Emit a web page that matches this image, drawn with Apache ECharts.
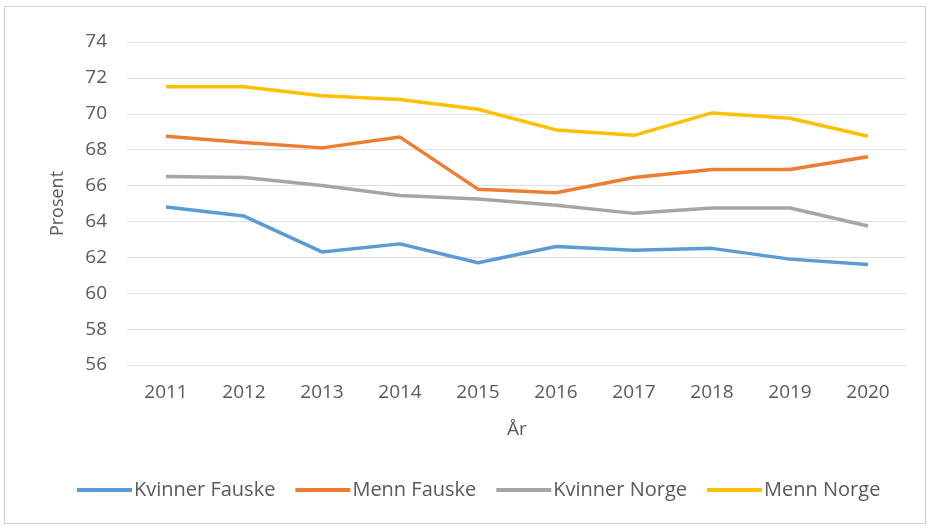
<!DOCTYPE html>
<html><head><meta charset="utf-8">
<script src="https://cdn.jsdelivr.net/npm/echarts@6/dist/echarts.min.js"></script>
<style>
html,body{margin:0;padding:0;background:#fff;}
#frame{position:absolute;left:4px;top:6px;width:922px;height:518px;border:1px solid #d0d0d0;box-sizing:border-box;}
#c{position:absolute;left:0;top:0;width:931px;height:529px;}
</style></head>
<body><div id="frame"></div><div id="c"></div>
<script>
const years = ['2011','2012','2013','2014','2015','2016','2017','2018','2019','2020'];
const kvinnerFauske = [64.8, 64.3, 62.3, 62.75, 61.7, 62.6, 62.4, 62.5, 61.9, 61.6];
const mennFauske = [68.75, 68.4, 68.1, 68.7, 65.8, 65.6, 66.45, 66.9, 66.9, 67.6];
const kvinnerNorge = [66.5, 66.45, 66.0, 65.45, 65.25, 64.9, 64.45, 64.75, 64.75, 63.75];
const mennNorge = [71.5, 71.5, 71.0, 70.8, 70.25, 69.1, 68.8, 70.05, 69.75, 68.75];
const seriesNames = ['Kvinner Fauske','Menn Fauske','Kvinner Norge','Menn Norge'];
const seriesColors = ['#5B9BD5','#ED7D31','#A5A5A5','#FFC000'];
const seriesData = [kvinnerFauske, mennFauske, kvinnerNorge, mennNorge];
const font = '"Open Sans",sans-serif';
const chart = echarts.init(document.getElementById('c'));
chart.setOption({
  animation:false,
  grid:{left:127,right:24,top:42,bottom:164},
  legend:{
    bottom:24,left:72,itemWidth:55,itemHeight:4,itemGap:20,icon:'rect',
    textStyle:{color:'#595959',fontSize:20,fontFamily:font,padding:[0,0,0,-3]},
    data:seriesNames
  },
  xAxis:{
    type:'category',data:years,boundaryGap:true,
    name:'År',nameLocation:'middle',nameGap:55,
    nameTextStyle:{color:'#595959',fontSize:19,fontFamily:font},
    axisLine:{show:false},axisTick:{show:false},
    axisLabel:{color:'#595959',fontSize:19,fontFamily:font,margin:18}
  },
  yAxis:{
    type:'value',min:56,max:74,interval:2,
    name:'Prosent',nameLocation:'middle',nameGap:60,
    nameTextStyle:{color:'#595959',fontSize:18,fontFamily:font},
    axisLine:{show:false},axisTick:{show:false},
    axisLabel:{color:'#595959',fontSize:19,fontFamily:font,margin:20},
    splitLine:{lineStyle:{color:'#e0e0e0',width:1}}
  },
  series: seriesNames.map((n,i)=>({
    name:n,type:'line',data:seriesData[i],symbol:'none',
    lineStyle:{color:seriesColors[i],width:3.5},itemStyle:{color:seriesColors[i]}
  }))
});
</script></body></html>
